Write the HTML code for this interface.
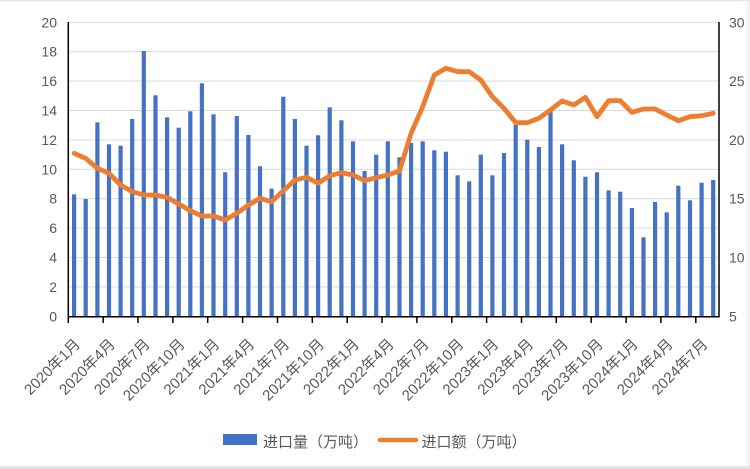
<!DOCTYPE html>
<html><head><meta charset="utf-8">
<style>
html,body{margin:0;padding:0;background:#fff;}
svg{display:block;}
text{font-family:"Liberation Sans","Noto Sans CJK SC",sans-serif;fill:#595959;}
</style></head>
<body>
<svg width="750" height="469" viewBox="0 0 750 469" xmlns="http://www.w3.org/2000/svg">
<defs>
<linearGradient id="rg" x1="0" x2="1" y1="0" y2="0">
<stop offset="0" stop-color="#ffffff" stop-opacity="0"/>
<stop offset="1" stop-color="#ececec"/>
</linearGradient>
</defs>
<rect x="0" y="0" width="750" height="469" fill="#fff"/>
<rect x="742" y="0" width="8" height="469" fill="url(#rg)"/>
<line x1="0" y1="0.5" x2="750" y2="0.5" stroke="#e6e6e6" stroke-width="1.5"/>
<rect x="0" y="466" width="750" height="3" fill="#e4e4e4"/>
<g stroke="#d9d9d9" stroke-width="1">
<line x1="68" y1="22.3" x2="719" y2="22.3"/>
<line x1="68" y1="51.7" x2="719" y2="51.7"/>
<line x1="68" y1="81.1" x2="719" y2="81.1"/>
<line x1="68" y1="110.5" x2="719" y2="110.5"/>
<line x1="68" y1="139.9" x2="719" y2="139.9"/>
<line x1="68" y1="169.3" x2="719" y2="169.3"/>
<line x1="68" y1="198.7" x2="719" y2="198.7"/>
<line x1="68" y1="228.1" x2="719" y2="228.1"/>
<line x1="68" y1="257.5" x2="719" y2="257.5"/>
<line x1="68" y1="286.9" x2="719" y2="286.9"/>
</g>
<g fill="#4472C4">
<rect x="72.0" y="194.3" width="4.2" height="122.4"/>
<rect x="83.6" y="199" width="4.2" height="117.7"/>
<rect x="95.3" y="122.3" width="4.2" height="194.4"/>
<rect x="106.9" y="144.3" width="4.2" height="172.4"/>
<rect x="118.5" y="145.7" width="4.2" height="171"/>
<rect x="130.1" y="119" width="4.2" height="197.7"/>
<rect x="141.7" y="51" width="4.2" height="265.7"/>
<rect x="153.4" y="95.3" width="4.2" height="221.4"/>
<rect x="165.0" y="117.3" width="4.2" height="199.4"/>
<rect x="176.6" y="127.7" width="4.2" height="189"/>
<rect x="188.2" y="111.3" width="4.2" height="205.4"/>
<rect x="199.8" y="83.3" width="4.2" height="233.4"/>
<rect x="211.4" y="114.3" width="4.2" height="202.4"/>
<rect x="223.1" y="172.3" width="4.2" height="144.4"/>
<rect x="234.7" y="116" width="4.2" height="200.7"/>
<rect x="246.3" y="135" width="4.2" height="181.7"/>
<rect x="257.9" y="166.3" width="4.2" height="150.4"/>
<rect x="269.5" y="188.7" width="4.2" height="128"/>
<rect x="281.2" y="96.7" width="4.2" height="220"/>
<rect x="292.8" y="119" width="4.2" height="197.7"/>
<rect x="304.4" y="145.7" width="4.2" height="171"/>
<rect x="316.0" y="135.3" width="4.2" height="181.4"/>
<rect x="327.6" y="107.3" width="4.2" height="209.4"/>
<rect x="339.3" y="120.3" width="4.2" height="196.4"/>
<rect x="350.9" y="141.3" width="4.2" height="175.4"/>
<rect x="362.5" y="171" width="4.2" height="145.7"/>
<rect x="374.1" y="154.7" width="4.2" height="162"/>
<rect x="385.7" y="141.3" width="4.2" height="175.4"/>
<rect x="397.4" y="157.3" width="4.2" height="159.4"/>
<rect x="409.0" y="143" width="4.2" height="173.7"/>
<rect x="420.6" y="141.3" width="4.2" height="175.4"/>
<rect x="432.2" y="150.3" width="4.2" height="166.4"/>
<rect x="443.8" y="151.7" width="4.2" height="165"/>
<rect x="455.5" y="175.3" width="4.2" height="141.4"/>
<rect x="467.1" y="181.3" width="4.2" height="135.4"/>
<rect x="478.7" y="154.7" width="4.2" height="162"/>
<rect x="490.3" y="175.3" width="4.2" height="141.4"/>
<rect x="501.9" y="153" width="4.2" height="163.7"/>
<rect x="513.6" y="125" width="4.2" height="191.7"/>
<rect x="525.2" y="139.7" width="4.2" height="177"/>
<rect x="536.8" y="147" width="4.2" height="169.7"/>
<rect x="548.4" y="110" width="4.2" height="206.7"/>
<rect x="560.0" y="144.3" width="4.2" height="172.4"/>
<rect x="571.7" y="160.3" width="4.2" height="156.4"/>
<rect x="583.3" y="176.7" width="4.2" height="140"/>
<rect x="594.9" y="172.3" width="4.2" height="144.4"/>
<rect x="606.5" y="190.3" width="4.2" height="126.4"/>
<rect x="618.1" y="191.7" width="4.2" height="125"/>
<rect x="629.8" y="208" width="4.2" height="108.7"/>
<rect x="641.4" y="237.3" width="4.2" height="79.4"/>
<rect x="653.0" y="202" width="4.2" height="114.7"/>
<rect x="664.6" y="212.3" width="4.2" height="104.4"/>
<rect x="676.2" y="185.7" width="4.2" height="131"/>
<rect x="687.9" y="200.3" width="4.2" height="116.4"/>
<rect x="699.5" y="182.7" width="4.2" height="134"/>
<rect x="711.1" y="180" width="4.2" height="136.7"/>
</g>
<polyline fill="none" stroke="#ED7D31" stroke-width="4.8" stroke-linejoin="round" stroke-linecap="round" points="74.1,153.3 85.7,158.3 97.4,168.3 109.0,173.3 120.6,185 132.2,191.7 143.8,195 155.5,195 167.1,197.3 178.7,204 190.3,210.7 201.9,216 213.5,216 225.2,220 236.8,213.3 248.4,205 260.0,198.3 271.6,201.7 283.3,190.7 294.9,180 306.5,177.3 318.1,183.3 329.7,175.7 341.4,172.7 353.0,175 364.6,180.7 376.2,177.7 387.8,175 399.5,171 411.1,133.3 422.7,106.7 434.3,75 445.9,68.3 457.6,71.7 469.2,71.7 480.8,80 492.4,96.7 504.0,108.3 515.7,122.7 527.3,122.7 538.9,118.3 550.5,110 562.1,101 573.8,105 585.4,97.3 597.0,116.7 608.6,100.7 620.2,100.7 631.9,112.3 643.5,109 655.1,109 666.7,115 678.3,120.7 690.0,116.7 701.6,115.7 713.2,113.3"/>
<g stroke="#000" stroke-width="1.5">
<line x1="68.3" y1="22" x2="68.3" y2="317"/>
<line x1="719" y1="22" x2="719" y2="317"/>
<line x1="67.5" y1="316.7" x2="719.7" y2="316.7"/>
<line x1="68.3" y1="316.7" x2="68.3" y2="323"/>
<line x1="103.2" y1="316.7" x2="103.2" y2="323"/>
<line x1="138.0" y1="316.7" x2="138.0" y2="323"/>
<line x1="172.9" y1="316.7" x2="172.9" y2="323"/>
<line x1="207.7" y1="316.7" x2="207.7" y2="323"/>
<line x1="242.6" y1="316.7" x2="242.6" y2="323"/>
<line x1="277.5" y1="316.7" x2="277.5" y2="323"/>
<line x1="312.3" y1="316.7" x2="312.3" y2="323"/>
<line x1="347.2" y1="316.7" x2="347.2" y2="323"/>
<line x1="382.0" y1="316.7" x2="382.0" y2="323"/>
<line x1="416.9" y1="316.7" x2="416.9" y2="323"/>
<line x1="451.8" y1="316.7" x2="451.8" y2="323"/>
<line x1="486.6" y1="316.7" x2="486.6" y2="323"/>
<line x1="521.5" y1="316.7" x2="521.5" y2="323"/>
<line x1="556.3" y1="316.7" x2="556.3" y2="323"/>
<line x1="591.2" y1="316.7" x2="591.2" y2="323"/>
<line x1="626.1" y1="316.7" x2="626.1" y2="323"/>
<line x1="660.9" y1="316.7" x2="660.9" y2="323"/>
<line x1="695.8" y1="316.7" x2="695.8" y2="323"/>
</g>
<g font-size="14" text-anchor="end">
<text x="57" y="27.3">20</text>
<text x="57" y="56.7">18</text>
<text x="57" y="86.1">16</text>
<text x="57" y="115.5">14</text>
<text x="57" y="144.9">12</text>
<text x="57" y="174.3">10</text>
<text x="57" y="203.7">8</text>
<text x="57" y="233.1">6</text>
<text x="57" y="262.5">4</text>
<text x="57" y="291.9">2</text>
<text x="57" y="321.7">0</text>
</g>
<g font-size="14" text-anchor="start">
<text x="729" y="27.3">30</text>
<text x="729" y="86.1">25</text>
<text x="729" y="144.9">20</text>
<text x="729" y="203.7">15</text>
<text x="729" y="262.5">10</text>
<text x="729" y="321.7">5</text>
</g>
<g font-size="15" text-anchor="end">
<text transform="translate(81.1,345) rotate(-45)">2020年1月</text>
<text transform="translate(116.0,345) rotate(-45)">2020年4月</text>
<text transform="translate(150.8,345) rotate(-45)">2020年7月</text>
<text transform="translate(185.7,345) rotate(-45)">2020年10月</text>
<text transform="translate(220.5,345) rotate(-45)">2021年1月</text>
<text transform="translate(255.4,345) rotate(-45)">2021年4月</text>
<text transform="translate(290.3,345) rotate(-45)">2021年7月</text>
<text transform="translate(325.1,345) rotate(-45)">2021年10月</text>
<text transform="translate(360.0,345) rotate(-45)">2022年1月</text>
<text transform="translate(394.8,345) rotate(-45)">2022年4月</text>
<text transform="translate(429.7,345) rotate(-45)">2022年7月</text>
<text transform="translate(464.6,345) rotate(-45)">2022年10月</text>
<text transform="translate(499.4,345) rotate(-45)">2023年1月</text>
<text transform="translate(534.3,345) rotate(-45)">2023年4月</text>
<text transform="translate(569.1,345) rotate(-45)">2023年7月</text>
<text transform="translate(604.0,345) rotate(-45)">2023年10月</text>
<text transform="translate(638.9,345) rotate(-45)">2024年1月</text>
<text transform="translate(673.7,345) rotate(-45)">2024年4月</text>
<text transform="translate(708.6,345) rotate(-45)">2024年7月</text>
</g>
<rect x="223" y="434" width="34" height="11" fill="#4472C4"/>
<text x="263" y="447" font-size="15">进口量（万吨）</text>
<line x1="380" y1="440" x2="416" y2="440" stroke="#ED7D31" stroke-width="4.5" stroke-linecap="round"/>
<text x="421.5" y="447" font-size="15">进口额（万吨）</text>
</svg>
</body></html>
